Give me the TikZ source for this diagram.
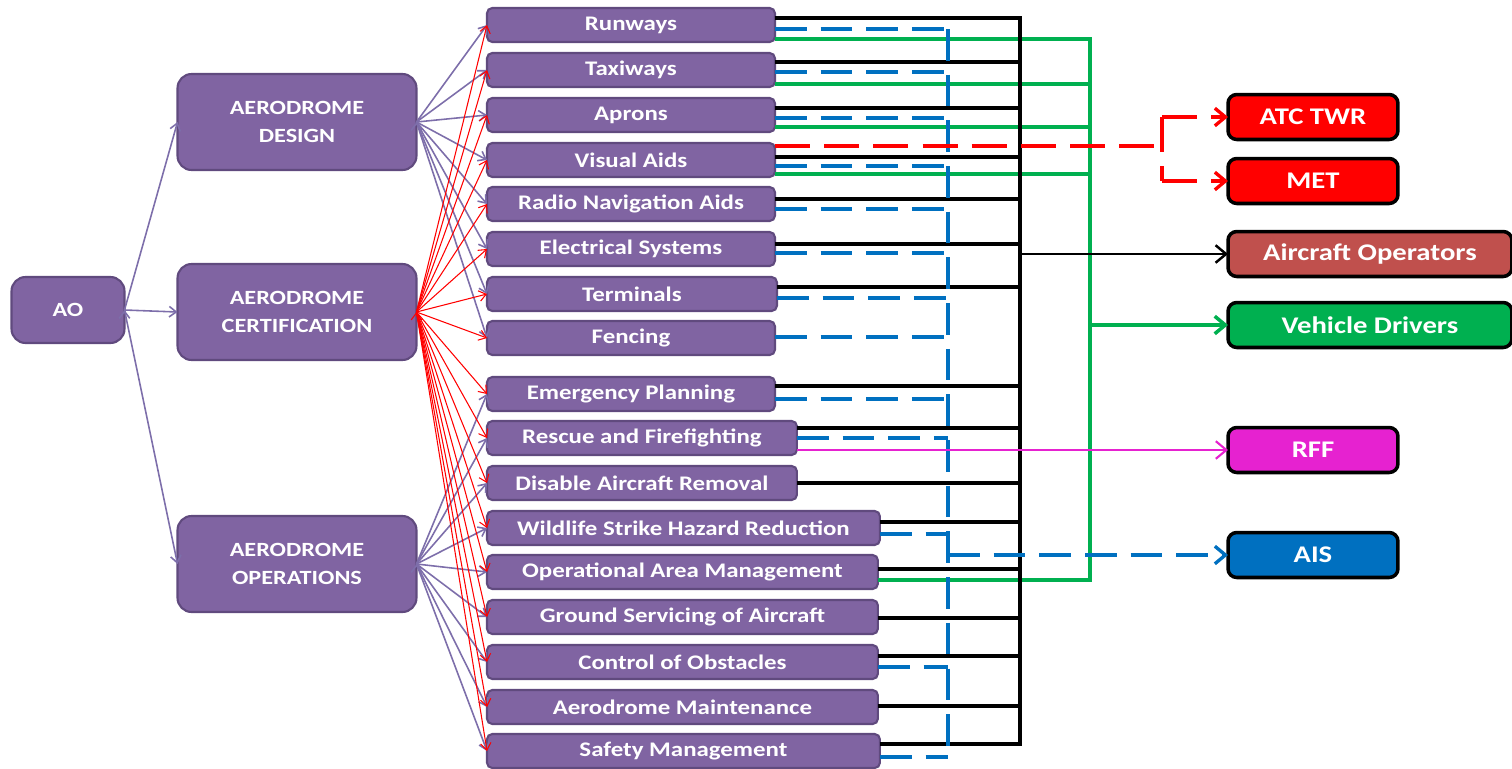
\documentclass[tikz,border=0pt]{standalone}
\usepackage{fontspec}
\setmainfont{Carlito}[FakeStretch=1.2]
\usetikzlibrary{arrows.meta}
\definecolor{boxpurple}{RGB}{128,100,162}
\definecolor{boxedge}{RGB}{96,74,126}
\definecolor{linkpurple}{RGB}{125,110,170}
\definecolor{atcred}{RGB}{255,0,0}
\definecolor{opsred}{RGB}{192,80,77}
\definecolor{drvgreen}{RGB}{0,176,80}
\definecolor{rffpink}{RGB}{230,34,208}
\definecolor{aisblue}{RGB}{0,112,192}

\begin{document}
\begin{tikzpicture}[x=0.02cm, y=-0.02cm,
box/.style={draw=boxedge, fill=boxpurple, line width=1.2pt, text=white, outer sep=0pt},
big/.style={box, rounded corners=8pt, minimum width=4.78cm, minimum height=1.92cm, align=center, font=\bfseries\fontsize{11.5}{15.5}\selectfont},
item/.style={box, rounded corners=3pt, anchor=west, minimum width=5.76cm, minimum height=0.68cm, inner sep=1pt, font=\bfseries\fontsize{11.8}{13}\selectfont},
dest/.style={draw=black, line width=2pt, rounded corners=5pt, anchor=west, minimum width=3.4cm, minimum height=0.9cm, text=white, outer sep=0pt, font=\bfseries\fontsize{13.6}{15}\selectfont},
fan/.style={draw=linkpurple, line width=0.9pt, -{Straight Barb[length=4pt,width=6pt]}},
redfan/.style={draw=red, line width=0.6pt, -{Straight Barb[length=4pt,width=6pt]}},
bus/.style={line width=2.8pt},
tap/.style={line width=1.9pt},
bdash/.style={draw=aisblue, line width=1.9pt, dash pattern=on 18pt off 8pt},
rdash/.style={draw=red, line width=1.9pt, dash pattern=on 20pt off 8pt},
gline/.style={draw=drvgreen, line width=2pt},
tip/.style={-{Straight Barb[length=6pt,width=10pt]}}]
\useasboundingbox (0,0) rectangle (1512,768);

% left column
\node[big, minimum width=2.26cm, minimum height=1.32cm] (ao) at (68,310) {AO};
\node[big] (design) at (297,122) {AERODROME\\DESIGN};
\node[big] (cert) at (297,312) {AERODROME\\CERTIFICATION};
\node[big] (ops) at (297,564) {AERODROME\\OPERATIONS};

% middle column
\node[item] (rwy) at (487,25) {Runways};
\node[item] (twy) at (487,70) {Taxiways};
\node[item] (apr) at (487,115) {Aprons};
\node[item] (vis) at (487,160) {Visual Aids};
\node[item] (rna) at (487,204) {Radio Navigation Aids};
\node[item] (elec) at (487,249) {Electrical Systems};
\node[item, minimum width=5.8cm] (term) at (487,294) {Terminals};
\node[item] (fence) at (487,338) {Fencing};
\node[item] (emer) at (487,394) {Emergency Planning};
\node[item, minimum width=6.2cm] (rescue) at (487,438) {Rescue and Firefighting};
\node[item, minimum width=6.2cm] (dar) at (487,483) {Disable Aircraft Removal};
\node[item, minimum width=7.86cm] (wshr) at (487,528) {Wildlife Strike Hazard Reduction};
\node[item, minimum width=7.82cm] (oam) at (487,572) {Operational Area Management};
\node[item, minimum width=7.82cm] (gsa) at (487,617) {Ground Servicing of Aircraft};
\node[item, minimum width=7.82cm] (obst) at (487,662) {Control of Obstacles};
\node[item, minimum width=7.82cm] (maint) at (487,707) {Aerodrome Maintenance};
\node[item, minimum width=7.86cm] (sms) at (487,751) {Safety Management};

% right column
\node[dest, fill=atcred] (atc) at (1228,117) {ATC TWR};
\node[dest, fill=atcred] (met) at (1228,181) {MET};
\node[dest, fill=opsred, minimum width=5.68cm] (acop) at (1228,254) {Aircraft Operators};
\node[dest, fill=drvgreen, minimum width=5.68cm] (vdrv) at (1228,325) {Vehicle Drivers};
\node[dest, fill=rffpink] (rff) at (1228,450) {RFF};
\node[dest, fill=aisblue] (ais) at (1228,555) {AIS};

% fans on the left
\draw[fan] (ao.east) edge (design.west) edge (cert.west) edge (ops.west);
\draw[fan] (design.east) edge (rwy.west) edge (twy.west) edge (apr.west) edge (vis.west)
  edge (rna.west) edge (elec.west) edge (term.west) edge (fence.west);
\draw[fan] (ops.east) edge (emer.west) edge (rescue.west) edge (dar.west) edge (wshr.west)
  edge (oam.west) edge (gsa.west) edge (obst.west) edge (maint.west) edge (sms.west);
\draw[redfan] (cert.east) edge (rwy.west) edge (twy.west) edge (apr.west) edge (vis.west)
  edge (rna.west) edge (elec.west) edge (term.west) edge (fence.west) edge (emer.west)
  edge (rescue.west) edge (dar.west) edge (wshr.west) edge (oam.west) edge (gsa.west)
  edge (obst.west) edge (maint.west) edge (sms.west);

% green lines to vehicle drivers
\coordinate (gtop) at (1090,39);
\coordinate (gend) at (1090,580);
\draw[gline] (rwy.east |- 0,39) -- (gtop) -- (gend) -- (oam.east |- 0,580);
\draw[gline] (twy.east |- 0,84) -- (gtop |- 0,84);
\draw[gline] (apr.east |- 0,127) -- (gtop |- 0,127);
\draw[gline] (vis.east |- 0,174) -- (gtop |- 0,174);
\draw[gline, tip] (gtop |- vdrv) -- (vdrv.west);

% black bus to aircraft operators
\coordinate (bus) at (1020,18);
\coordinate (busend) at (1020,744);
\draw[tap] (rwy.east |- 0,18) -- (bus |- 0,18);
\draw[tap] (twy.east |- 0,62) -- (bus |- 0,62);
\draw[tap] (apr.east |- 0,108) -- (bus |- 0,108);
\draw[tap] (vis.east |- 0,157) -- (bus |- 0,157);
\draw[tap] (rna.east |- 0,199) -- (bus |- 0,199);
\draw[tap] (elec.east |- 0,244) -- (bus |- 0,244);
\draw[tap] (term.east |- 0,287) -- (bus |- 0,287);
\draw[tap] (emer.east |- 0,386) -- (bus |- 0,386);
\draw[tap] (rescue.east |- 0,428) -- (bus |- 0,428);
\draw[tap] (dar.east |- 0,483) -- (bus |- 0,483);
\draw[tap] (wshr.east |- 0,522) -- (bus |- 0,522);
\draw[tap] (oam.east |- 0,569) -- (bus |- 0,569);
\draw[tap] (gsa.east |- 0,618) -- (bus |- 0,618);
\draw[tap] (obst.east |- 0,656) -- (bus |- 0,656);
\draw[tap] (maint.east |- 0,706) -- (bus |- 0,706);
\draw[tap] (sms.east |- 0,744) -- (busend);
\draw[bus, line cap=rect] (bus) -- (busend);
\draw[line width=1.4pt, tip] (bus |- acop) -- (acop.west);

% blue dashed lines to AIS
\coordinate (btop) at (948,29);
\coordinate (bend) at (948,757);
\draw[bdash] (rwy.east |- 0,29) -- (btop);
\draw[bdash] (twy.east |- 0,72) -- (btop |- 0,72);
\draw[bdash] (apr.east |- 0,118) -- (btop |- 0,118);
\draw[bdash] (vis.east |- 0,166) -- (btop |- 0,166);
\draw[bdash] (rna.east |- 0,209) -- (btop |- 0,209);
\draw[bdash] (elec.east |- 0,253) -- (btop |- 0,253);
\draw[bdash] (term.east |- 0,298) -- (btop |- 0,298);
\draw[bdash] (fence.east |- 0,337) -- (btop |- 0,337);
\draw[bdash] (emer.east |- 0,399) -- (btop |- 0,399);
\draw[bdash] (rescue.east |- 0,438) -- (btop |- 0,438);
\draw[bdash] (wshr.east |- 0,534) -- (btop |- 0,534);
\draw[bdash] (obst.east |- 0,667) -- (btop |- 0,667);
\draw[bdash] (sms.east |- 0,757) -- (bend);
\draw[bdash] (btop) -- (bend);
\draw[bdash, tip] (btop |- ais) -- (ais.west);

% red dashed lines to ATC TWR and MET
\coordinate (rsplit) at (1162,146);
\draw[rdash] (vis.east |- rsplit) -- (rsplit);
\draw[rdash] (rsplit |- atc) -- (rsplit |- met);
\draw[rdash, tip] (rsplit |- atc) -- (atc.west);
\draw[rdash, tip] (rsplit |- met) -- (met.west);

% rescue to RFF
\draw[draw=rffpink, line width=1.2pt, tip] (rescue.east |- rff) -- (rff.west);
\end{tikzpicture}
\end{document}
